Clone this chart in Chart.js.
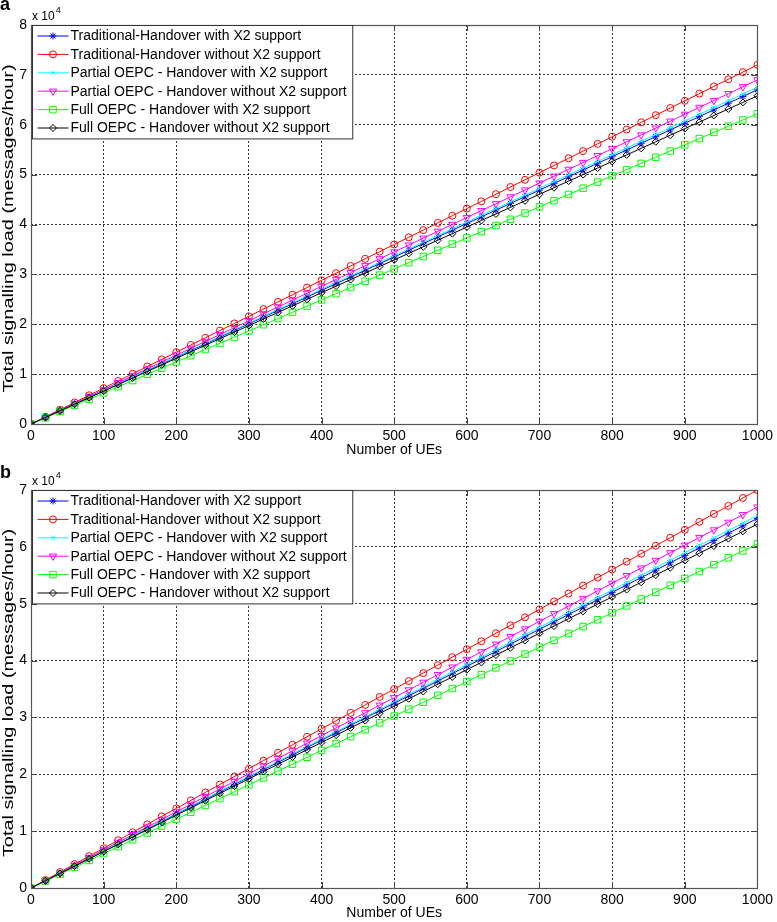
<!DOCTYPE html>
<html>
<head>
<meta charset="utf-8">
<script src="https://cdn.jsdelivr.net/npm/chart.js@4/dist/chart.umd.min.js"></script>
<style>
  html, body { margin: 0; padding: 0; background: #fff; }
  #wrap { position: relative; width: 777px; height: 922px; }
  canvas { position: absolute; left: 0; }
</style>
</head>
<body>
<div id="wrap">
  <canvas id="chartA" width="777" height="460" style="top:0"></canvas>
  <canvas id="chartB" width="777" height="462" style="top:460px"></canvas>
</div>
<script>
// number of UEs (x positions of the markers)
const ues = [0,20,40,60,80,100,120,140,160,180,200,220,240,260,280,300,320,340,360,380,400,
  420,440,460,480,500,520,540,560,580,600,620,640,660,680,700,720,740,760,780,800,
  820,840,860,880,900,920,940,960,980,1000];

const seriesNames = [
  "Traditional-Handover with X2 support",
  "Traditional-Handover without X2 support",
  "Partial OEPC - Handover with X2 support",
  "Partial OEPC - Handover without X2 support",
  "Full OEPC - Handover with X2 support",
  "Full OEPC - Handover without X2 support"
];

// panel a (messages/hour)
const aTradX2 = [0,1340,2680,4020,5360,6700,8040,9380,10720,12060,13400,14740,16080,17420,18760,20100,
  21440,22780,24120,25460,26800,28140,29480,30820,32160,33500,34840,36180,37520,38860,40200,
  41540,42880,44220,45560,46900,48240,49580,50920,52260,53600,54940,56280,57620,58960,60300,
  61640,62980,64320,65660,67000];
const aTradNoX2 = [0,1440,2880,4320,5760,7200,8640,10080,11520,12960,14400,15840,17280,18720,20160,21600,
  23040,24480,25920,27360,28800,30240,31680,33120,34560,36000,37440,38880,40320,41760,43200,
  44640,46080,47520,48960,50400,51840,53280,54720,56160,57600,59040,60480,61920,63360,64800,
  66240,67680,69120,70560,72000];
const aPartX2 = [0,1350,2700,4050,5400,6750,8100,9450,10800,12150,13500,14850,16200,17550,18900,20250,
  21600,22950,24300,25650,27000,28350,29700,31050,32400,33750,35100,36450,37800,39150,40500,
  41850,43200,44550,45900,47250,48600,49950,51300,52650,54000,55350,56700,58050,59400,60750,
  62100,63450,64800,66150,67500];
const aPartNoX2 = [0,1380,2760,4140,5520,6900,8280,9660,11040,12420,13800,15180,16560,17940,19320,20700,
  22080,23460,24840,26220,27600,28980,30360,31740,33120,34500,35880,37260,38640,40020,41400,
  42780,44160,45540,46920,48300,49680,51060,52440,53820,55200,56580,57960,59340,60720,62100,
  63480,64860,66240,67620,69000];
const aFullX2 = [0,1244,2488,3732,4976,6220,7464,8708,9952,11196,12440,13684,14928,16172,17416,18660,
  19904,21148,22392,23636,24880,26124,27368,28612,29856,31100,32344,33588,34832,36076,37320,
  38564,39808,41052,42296,43540,44784,46028,47272,48516,49760,51004,52248,53492,54736,55980,
  57224,58468,59712,60956,62200];
const aFullNoX2 = [0,1316,2632,3948,5264,6580,7896,9212,10528,11844,13160,14476,15792,17108,18424,19740,
  21056,22372,23688,25004,26320,27636,28952,30268,31584,32900,34216,35532,36848,38164,39480,
  40796,42112,43428,44744,46060,47376,48692,50008,51324,52640,53956,55272,56588,57904,59220,
  60536,61852,63168,64484,65800];

// panel b (messages/hour)
const bTradX2 = [0,1300,2600,3900,5200,6500,7800,9100,10400,11700,13000,14300,15600,16900,18200,19500,
  20800,22100,23400,24700,26000,27300,28600,29900,31200,32500,33800,35100,36400,37700,39000,
  40300,41600,42900,44200,45500,46800,48100,49400,50700,52000,53300,54600,55900,57200,58500,
  59800,61100,62400,63700,65000];
const bTradNoX2 = [0,1400,2800,4200,5600,7000,8400,9800,11200,12600,14000,15400,16800,18200,19600,21000,
  22400,23800,25200,26600,28000,29400,30800,32200,33600,35000,36400,37800,39200,40600,42000,
  43400,44800,46200,47600,49000,50400,51800,53200,54600,56000,57400,58800,60200,61600,63000,
  64400,65800,67200,68600,70000];
const bPartX2 = [0,1310,2620,3930,5240,6550,7860,9170,10480,11790,13100,14410,15720,17030,18340,19650,
  20960,22270,23580,24890,26200,27510,28820,30130,31440,32750,34060,35370,36680,37990,39300,
  40610,41920,43230,44540,45850,47160,48470,49780,51090,52400,53710,55020,56330,57640,58950,
  60260,61570,62880,64190,65500];
const bPartNoX2 = [0,1340,2680,4020,5360,6700,8040,9380,10720,12060,13400,14740,16080,17420,18760,20100,
  21440,22780,24120,25460,26800,28140,29480,30820,32160,33500,34840,36180,37520,38860,40200,
  41540,42880,44220,45560,46900,48240,49580,50920,52260,53600,54940,56280,57620,58960,60300,
  61640,62980,64320,65660,67000];
const bFullX2 = [0,1210,2420,3630,4840,6050,7260,8470,9680,10890,12100,13310,14520,15730,16940,18150,
  19360,20570,21780,22990,24200,25410,26620,27830,29040,30250,31460,32670,33880,35090,36300,
  37510,38720,39930,41140,42350,43560,44770,45980,47190,48400,49610,50820,52030,53240,54450,
  55660,56870,58080,59290,60500];
const bFullNoX2 = [0,1280,2560,3840,5120,6400,7680,8960,10240,11520,12800,14080,15360,16640,17920,19200,
  20480,21760,23040,24320,25600,26880,28160,29440,30720,32000,33280,34560,35840,37120,38400,
  39680,40960,42240,43520,44800,46080,47360,48640,49920,51200,52480,53760,55040,56320,57600,
  58880,60160,61440,62720,64000];

// line colour / marker per series (MATLAB style)
const styles = [
  { color: "#0000ff", marker: "star", radius: 3.5, rotation: 0 },
  { color: "#ff0000", marker: "circle", radius: 3.5, rotation: 0 },
  { color: "#00ffff", marker: "crossRot", radius: 3, rotation: 0 },
  { color: "#ff00ff", marker: "triangle", radius: 4.2, rotation: 180 },
  { color: "#00ff00", marker: "rect", radius: 4.6, rotation: 0 },
  { color: "#000000", marker: "rectRot", radius: 3.5, rotation: 0 }
];

const FONT = "Arial, 'Liberation Sans', sans-serif";
const yTitle = "Total signalling load (messages/hour)";

// axes box, inner ticks, y label, exponent label, panel letter, legend
function matlabPlugin(letter, letterY) {
  return {
    id: "matlab" + letter,
    afterDraw(chart) {
      const ctx = chart.ctx;
      const { left, right, top, bottom } = chart.chartArea;
      ctx.save();

      // inner tick marks
      ctx.strokeStyle = "#444";
      ctx.lineWidth = 1;
      ctx.beginPath();
      chart.scales.x.ticks.forEach(t => {
        const px = Math.round(chart.scales.x.getPixelForValue(t.value)) + 0.5;
        ctx.moveTo(px, bottom); ctx.lineTo(px, bottom - 6);
        ctx.moveTo(px, top); ctx.lineTo(px, top + 6);
      });
      chart.scales.y.ticks.forEach(t => {
        const py = Math.round(chart.scales.y.getPixelForValue(t.value)) + 0.5;
        ctx.moveTo(left, py); ctx.lineTo(left + 6, py);
        ctx.moveTo(right, py); ctx.lineTo(right - 6, py);
      });
      ctx.stroke();

      // box
      ctx.strokeStyle = "#555";
      ctx.lineWidth = 1.2;
      ctx.strokeRect(Math.round(left) + 0.5, Math.round(top) + 0.5,
        Math.round(right - left), Math.round(bottom - top));

      // y label (stretched along its length like the source figure)
      ctx.fillStyle = "#000";
      ctx.save();
      ctx.translate(9, (top + bottom) / 2 + 4);
      ctx.rotate(-Math.PI / 2);
      ctx.scale(1.42, 1);
      ctx.font = "14px " + FONT;
      ctx.textAlign = "center";
      ctx.textBaseline = "middle";
      ctx.fillText(yTitle, 0, 0);
      ctx.restore();

      // exponent label
      ctx.textBaseline = "alphabetic";
      ctx.textAlign = "left";
      ctx.font = "12px " + FONT;
      ctx.fillText("x 10", left + 1, top - 5);
      const w = ctx.measureText("x 10").width;
      ctx.font = "9px " + FONT;
      ctx.fillText("4", left + 2 + w, top - 12);

      // panel letter
      ctx.font = "bold 18px " + FONT;
      ctx.fillText(letter, 0, letterY);

      // legend
      const ds = chart.data.datasets;
      ctx.font = "14px " + FONT;
      let maxW = 0;
      ds.forEach(d => { maxW = Math.max(maxW, ctx.measureText(d.label).width); });
      const bx = Math.round(left) + 1.5, by = Math.round(top) + 0.5;
      const bw = 39 + maxW + 5, rowH = 18.4, bh = ds.length * rowH + 3;
      ctx.fillStyle = "#fff";
      ctx.fillRect(bx, by, bw, bh);
      ctx.strokeStyle = "#333";
      ctx.lineWidth = 1;
      ctx.strokeRect(bx, by, bw, bh);
      ds.forEach((d, i) => {
        const y = by + 10.5 + i * rowH;
        ctx.strokeStyle = d.borderColor;
        ctx.lineWidth = 1;
        ctx.beginPath();
        ctx.moveTo(bx + 5, y); ctx.lineTo(bx + 36, y);
        ctx.stroke();
        if (Chart.helpers && Chart.helpers.drawPoint) {
          ctx.fillStyle = "rgba(0,0,0,0)";
          Chart.helpers.drawPoint(ctx, {
            pointStyle: d.pointStyle, radius: d.pointRadius,
            rotation: d.pointRotation, borderWidth: 1
          }, bx + 20.5, y);
        }
        ctx.fillStyle = "#000";
        ctx.textBaseline = "middle";
        ctx.fillText(d.label, bx + 38, y + 0.5);
      });
      ctx.restore();
    }
  };
}

function makePanel(canvasId, series, yMax, padTop, xAxisH, titlePad, letter, letterY) {
  const datasets = series.map((vals, i) => ({
    label: seriesNames[i],
    data: ues.map((u, j) => ({ x: u, y: vals[j] })),
    borderColor: styles[i].color,
    backgroundColor: styles[i].color,
    borderWidth: 1,
    pointStyle: styles[i].marker,
    pointRadius: styles[i].radius,
    pointRotation: styles[i].rotation,
    pointBorderColor: styles[i].color,
    pointBackgroundColor: "rgba(0,0,0,0)",
    pointBorderWidth: 1,
    tension: 0,
    order: 5 - i
  }));

  return new Chart(document.getElementById(canvasId).getContext("2d"), {
    type: "line",
    data: { datasets },
    options: {
      responsive: false,
      animation: false,
      devicePixelRatio: 1,
      layout: { padding: { left: 0, right: 15, top: padTop, bottom: 0 } },
      plugins: {
        legend: { display: false },
        tooltip: { enabled: false }
      },
      scales: {
        x: {
          type: "linear",
          min: 0,
          max: 1000,
          afterFit: s => { s.height = xAxisH; },
          ticks: {
            stepSize: 100,
            maxRotation: 0,
            autoSkip: false,
            padding: 4,
            color: "#000",
            font: { family: FONT, size: 14 },
            callback: v => String(v)
          },
          grid: { color: "#333", lineWidth: 1, drawTicks: false },
          border: { display: false, dash: [2, 2] },
          title: {
            display: true,
            text: "Number of UEs",
            color: "#000",
            font: { family: FONT, size: 14 },
            padding: { top: 0, bottom: titlePad }
          }
        },
        y: {
          min: 0,
          max: yMax,
          afterFit: s => { s.width = 31; },
          ticks: {
            stepSize: 10000,
            padding: 4,
            color: "#000",
            font: { family: FONT, size: 14 },
            callback: v => v / 10000
          },
          grid: { color: "#333", lineWidth: 1, drawTicks: false },
          border: { display: false, dash: [2, 2] },
          title: { display: false }
        }
      }
    },
    plugins: [matlabPlugin(letter, letterY)]
  });
}

makePanel("chartA", [aTradX2, aTradNoX2, aPartX2, aPartNoX2, aFullX2, aFullNoX2],
  80000, 25, 36, 1, "a", 10);
makePanel("chartB", [bTradX2, bTradNoX2, bPartX2, bPartNoX2, bFullX2, bFullNoX2],
  70000, 30, 34, 0, "b", 18);
</script>
</body>
</html>
